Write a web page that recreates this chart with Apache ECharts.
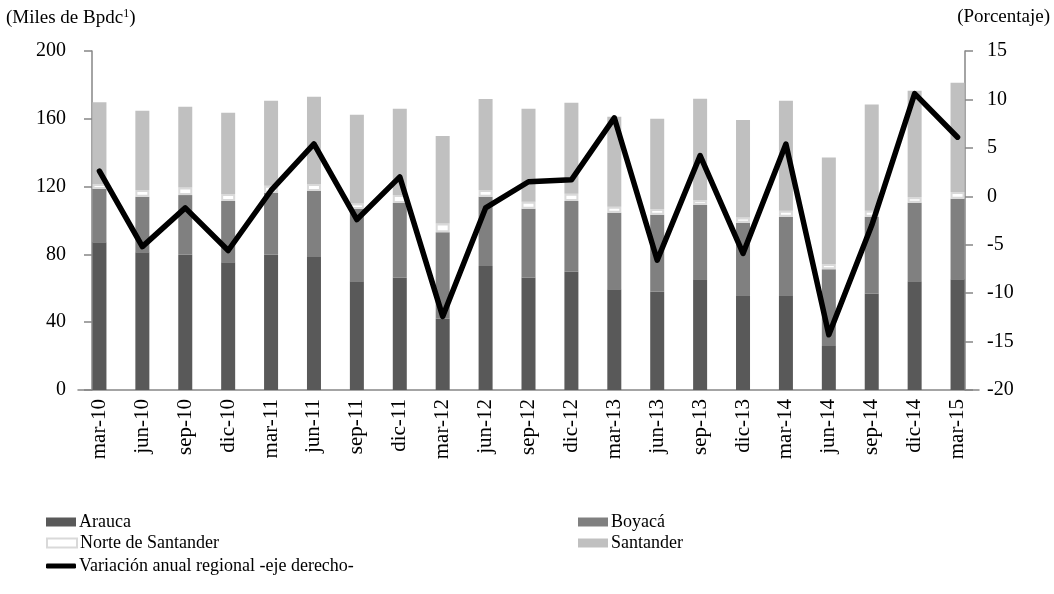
<!DOCTYPE html>
<html>
<head>
<meta charset="utf-8">
<script src="https://cdn.jsdelivr.net/npm/echarts@6/dist/echarts.min.js"></script>
<style>
  html, body { margin: 0; padding: 0; background: #ffffff; }
  #chart { width: 1054px; height: 594px; }
</style>
</head>
<body>
<div id="chart"></div>
<script>
var categories = ["mar-10", "jun-10", "sep-10", "dic-10", "mar-11", "jun-11", "sep-11", "dic-11", "mar-12", "jun-12", "sep-12",
  "dic-12", "mar-13", "jun-13", "sep-13", "dic-13", "mar-14", "jun-14", "sep-14", "dic-14", "mar-15"];
var arauca = [87.1, 81.2, 79.8, 75.3, 79.8, 78.5, 64.1, 66.3, 42.0, 73.2, 66.3, 69.8, 59.4, 58.0, 65.3, 55.9, 55.9, 26.0, 57.0, 64.1, 65.3];
var boyaca = [31.5, 32.8, 35.2, 36.2, 36.6, 38.9, 42.7, 44.0, 51.0, 40.8, 40.7, 41.7, 45.2, 45.4, 44.0, 42.8, 46.3, 45.2, 45.2, 46.4, 47.6];
var norte = [2.9, 4.0, 4.4, 4.1, 4.1, 4.1, 3.3, 4.7, 5.3, 4.0, 4.1, 4.3, 3.5, 3.4, 2.8, 3.0, 3.6, 3.1, 3.6, 3.2, 3.9];
var santander = [48.2, 46.8, 47.7, 48.0, 50.2, 51.5, 52.3, 51.0, 51.6, 53.7, 54.9, 53.7, 53.1, 53.3, 59.8, 57.6, 64.9, 62.8, 62.7, 62.9, 64.5];
var variacion = [2.6, -5.2, -1.2, -5.6, 0.6, 5.4, -2.4, 2.0, -12.4, -1.2, 1.5, 1.7, 8.1, -6.6, 4.2, -5.9, 5.4, -14.3, -3.0, 10.6, 6.1];

var font = "Liberation Serif";
var axisColor = '#868686';

function legendAt(item, left, top, h) {
  return {
    data: [item],
    left: left,
    top: top,
    padding: 0,
    itemWidth: 30,
    itemHeight: h || 9,
    itemGap: 0,
    selectedMode: false,
    textStyle: { fontFamily: font, fontSize: 18, color: '#000', padding: [0, 0, 0, -2] }
  };
}

var chart = echarts.init(document.getElementById('chart'));
chart.setOption({
  animation: false,
  title: [{
    text: '(Miles de Bpdc{sup|1})',
    left: 6,
    top: 8,
    padding: 0,
    textStyle: {
      fontFamily: font, fontSize: 19, fontWeight: 'normal', color: '#000',
      rich: { sup: { fontFamily: font, fontSize: 12, verticalAlign: 'top', padding: [0, 0, 8, 0] } }
    }
  }, {
    text: '(Porcentaje)',
    right: 4,
    top: 8,
    padding: 0,
    textStyle: { fontFamily: font, fontSize: 19, fontWeight: 'normal', color: '#000' }
  }],
  legend: [
    legendAt({ name: 'Arauca', icon: 'rect' }, 46, 513),
    legendAt({ name: 'Boyacá', icon: 'rect' }, 578, 513),
    legendAt({ name: 'Norte de Santander', icon: 'rect' }, 46, 534),
    legendAt({ name: 'Santander', icon: 'rect' }, 578, 534),
    legendAt({ name: 'Variación anual regional -eje derecho-', icon: 'roundRect',
      itemStyle: { color: '#000', borderWidth: 0 } }, 46, 557, 5)
  ],
  grid: { left: 78, right: 75, top: 51, bottom: 204 },
  xAxis: {
    type: 'category',
    data: categories,
    axisLine: { lineStyle: { color: axisColor, width: 1.5 } },
    axisTick: { show: false },
    axisLabel: { rotate: 90, margin: 9, fontFamily: font, fontSize: 21, color: '#000' }
  },
  yAxis: [{
    type: 'value',
    min: 0, max: 200, interval: 40,
    offset: -14,
    splitLine: { show: false },
    axisLine: { show: true, lineStyle: { color: axisColor, width: 1.5 } },
    axisTick: { show: true, length: 8, lineStyle: { color: axisColor, width: 1.5 } },
    axisLabel: { margin: 26, fontFamily: font, fontSize: 20, color: '#000' }
  }, {
    type: 'value',
    min: -20, max: 15, interval: 5,
    offset: -14,
    splitLine: { show: false },
    axisLine: { show: true, lineStyle: { color: axisColor, width: 1.5 } },
    axisTick: { show: true, length: 8, lineStyle: { color: axisColor, width: 1.5 } },
    axisLabel: { margin: 22, fontFamily: font, fontSize: 20, color: '#000' }
  }],
  series: [{
    name: 'Arauca', type: 'bar', stack: 'prod', barWidth: 14,
    itemStyle: { color: '#595959' },
    data: arauca
  }, {
    name: 'Boyacá', type: 'bar', stack: 'prod', barWidth: 14,
    itemStyle: { color: '#808080' },
    data: boyaca
  }, {
    name: 'Norte de Santander', type: 'bar', stack: 'prod', barWidth: 14,
    itemStyle: { color: '#ffffff', borderColor: '#d9d9d9', borderWidth: 2 },
    data: norte
  }, {
    name: 'Santander', type: 'bar', stack: 'prod', barWidth: 14,
    itemStyle: { color: '#c0c0c0' },
    data: santander
  }, {
    name: 'Variación anual regional -eje derecho-', type: 'line', yAxisIndex: 1,
    symbol: 'none', showSymbol: false,
    lineStyle: { color: '#000', width: 5.5, cap: 'round', join: 'round' },
    itemStyle: { color: '#000' },
    data: variacion
  }]
});
</script>
</body>
</html>
